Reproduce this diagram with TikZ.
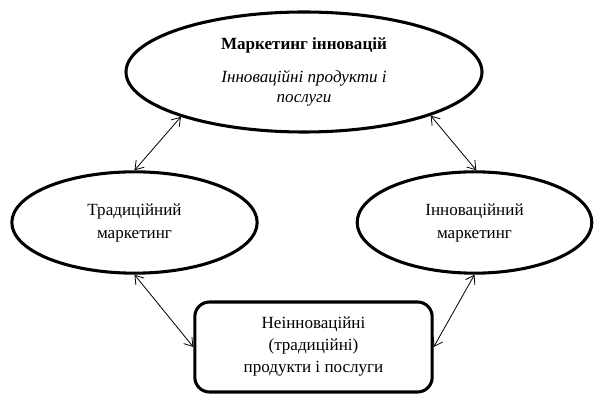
\documentclass[tikz,border=0pt]{standalone}
\usepackage{fontspec}
\setmainfont{Liberation Serif}
\usetikzlibrary{arrows.meta,shapes.geometric}

\begin{document}
\begin{tikzpicture}[x=0.75pt,y=-0.75pt,line join=round,line cap=round]

  % ---- reference values (pixels, y measured down) ----
  \def\topCx{304}      % centre of the top ellipse
  \def\topCy{72}
  \def\sideCy{222.5}   % centre line of the two side ellipses
  \def\leftCx{134.5}
  \def\rightCx{474.5}
  \def\boxCx{313.5}    % centre of the bottom box
  \def\boxCy{347}

  \tikzset{
    oval/.style={ellipse,draw,line width=2.3pt,inner sep=0pt,align=center,
      font=\fontsize{12.8}{17.25}\selectfont},
    roundbox/.style={rectangle,draw,line width=2.3pt,rounded corners=11pt,
      inner sep=0pt,align=center,font=\fontsize{12.8}{16.5}\selectfont},
    link/.style={line width=0.6pt,
      {Straight Barb[length=6pt,width=8pt]}-{Straight Barb[length=6pt,width=8pt]}}
  }

  \useasboundingbox (0,0) rectangle (594,395);

  % ---- top ellipse ----
  \node[oval,minimum width=267pt,minimum height=90pt,
    font=\fontsize{12.8}{15}\selectfont] (top) at (\topCx,\topCy)
    {\textbf{Маркетинг інновацій}\\[9.75pt]
     \textit{Інноваційні продукти і}\\ \textit{послуги}};

  % ---- side ellipses ----
  \node[oval,minimum width=184pt,minimum height=76pt] (trad) at (\leftCx,\sideCy)
    {Традиційний\\маркетинг};
  \node[oval,minimum width=176pt,minimum height=76pt] (innov) at (\rightCx,\sideCy)
    {Інноваційний\\маркетинг};

  % ---- bottom box ----
  \node[roundbox,minimum width=178pt,minimum height=67.5pt] (prod) at (\boxCx,\boxCy)
    {Неінноваційні\\(традиційні)\\продукти і послуги};

  % ---- two-way links ----
  \draw[link] (top.200) -- (trad.north);
  \draw[link] (top.341) -- (innov.88);
  \draw[link] (trad.south) -- (prod.west);
  \draw[link] (innov.south) -- (prod.east);

\end{tikzpicture}
\end{document}
